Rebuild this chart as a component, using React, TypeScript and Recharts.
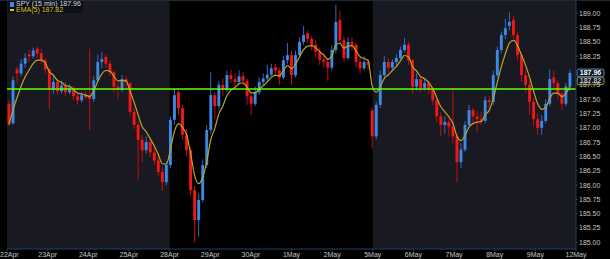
import { ComposedChart, Bar, Line, XAxis, YAxis, ReferenceLine, ReferenceArea } from 'recharts';

// [open, high, low, close] per half-hour-ish slot, one array per session
type Candle = [number, number, number, number];

const dates = ['22Apr', '23Apr', '24Apr', '25Apr', '28Apr', '29Apr', '30Apr', '1May', '2May', '5May', '6May', '7May', '8May', '9May', '12May'];

const apr22: Candle[] = [
    [187.42, 187.48, 187.03, 187.06], [187.08, 187.90, 187.05, 187.83], [188.02, 188.08, 187.78, 187.95], [187.95, 188.20, 187.90, 188.12], [188.12, 188.30, 188.05, 188.22],
    [188.28, 188.36, 188.15, 188.25], [188.25, 188.40, 188.20, 188.35], [188.38, 188.42, 188.22, 188.30], [188.30, 188.38, 188.12, 188.18], [188.18, 188.22, 187.95, 188.02],
];
const apr23: Candle[] = [
    [188.02, 188.05, 187.33, 187.68], [187.66, 187.90, 187.60, 187.80], [187.80, 187.85, 187.58, 187.64], [187.64, 187.82, 187.60, 187.74], [187.74, 187.80, 187.55, 187.62],
    [187.62, 187.76, 187.58, 187.70], [187.70, 187.73, 187.48, 187.55], [187.55, 187.60, 187.40, 187.48], [187.48, 187.62, 187.44, 187.57], [187.57, 187.65, 187.50, 187.53],
];
const apr24: Candle[] = [
    [187.55, 188.38, 186.95, 187.50], [187.50, 187.90, 187.45, 187.83], [187.83, 188.28, 187.80, 188.15], [188.15, 188.32, 188.05, 188.20], [188.24, 188.28, 188.05, 188.12],
    [188.12, 188.18, 187.90, 187.97], [187.97, 188.00, 187.62, 187.72], [187.72, 187.78, 187.50, 187.66], [187.66, 187.92, 187.62, 187.85], [187.85, 187.90, 187.70, 187.80],
];
const apr25: Candle[] = [
    [187.78, 187.80, 187.20, 187.28], [187.28, 187.35, 186.98, 187.05], [187.05, 187.12, 186.08, 186.79], [186.79, 186.88, 186.40, 186.61], [186.61, 186.85, 186.55, 186.75],
    [186.75, 186.80, 186.50, 186.57], [186.57, 186.65, 186.35, 186.43], [186.43, 186.50, 186.15, 186.23], [186.23, 186.32, 185.90, 186.05], [186.05, 186.42, 186.00, 186.35],
];
const apr28: Candle[] = [
    [186.35, 187.20, 186.30, 187.14], [187.14, 187.68, 187.05, 187.57], [187.62, 187.66, 187.22, 187.34], [187.34, 187.40, 186.78, 186.88], [186.88, 186.98, 186.50, 186.61],
    [186.61, 186.66, 185.82, 185.91], [185.91, 185.98, 185.00, 185.39], [185.39, 185.85, 185.10, 185.74], [185.74, 186.45, 185.70, 186.35], [186.35, 187.05, 186.30, 186.96],
];
const apr29: Candle[] = [
    [186.96, 187.97, 186.90, 187.57], [187.57, 187.62, 187.15, 187.38], [187.38, 187.82, 187.32, 187.75], [187.75, 187.86, 187.55, 187.66], [187.66, 188.00, 187.62, 187.92],
    [187.92, 188.02, 187.78, 187.85], [187.85, 187.95, 187.72, 187.80], [187.80, 188.00, 187.76, 187.90], [187.90, 187.97, 187.74, 187.82], [187.82, 187.86, 187.40, 187.55],
];
const apr30: Candle[] = [
    [187.55, 187.60, 187.22, 187.42], [187.42, 187.72, 187.38, 187.62], [187.62, 187.88, 187.58, 187.80], [187.80, 187.95, 187.74, 187.86], [187.86, 188.10, 187.80, 187.93],
    [187.93, 188.12, 187.88, 188.04], [188.06, 188.12, 187.92, 188.00], [188.00, 188.05, 187.75, 187.88], [187.88, 188.25, 187.85, 188.18], [188.18, 188.48, 188.12, 188.27],
];
const may01: Candle[] = [
    [188.27, 188.35, 187.75, 187.92], [187.92, 188.35, 187.88, 188.27], [188.27, 188.58, 188.22, 188.50], [188.50, 188.78, 188.45, 188.62], [188.65, 188.70, 188.48, 188.55],
    [188.55, 188.60, 188.35, 188.45], [188.45, 188.52, 188.22, 188.33], [188.33, 188.40, 188.10, 188.19], [188.19, 188.30, 188.05, 188.15], [188.15, 188.22, 187.82, 188.05],
];
const may02: Candle[] = [
    [188.05, 188.45, 188.00, 188.36], [188.36, 189.15, 188.30, 188.85], [188.88, 189.05, 188.45, 188.53], [188.53, 188.60, 188.15, 188.22], [188.22, 188.58, 188.18, 188.50],
    [188.50, 188.58, 188.35, 188.45], [188.45, 188.48, 188.05, 188.15], [188.15, 188.22, 187.95, 188.04], [188.04, 188.25, 188.00, 188.15], [188.15, 188.20, 188.02, 188.10],
];
const may05: Candle[] = [
    [187.30, 187.35, 186.64, 186.85], [186.85, 187.45, 186.80, 187.40], [187.40, 188.00, 187.35, 187.92], [187.92, 188.25, 187.88, 188.15], [188.15, 188.22, 187.98, 188.05],
    [188.05, 188.20, 188.00, 188.15], [188.15, 188.28, 188.08, 188.22], [188.22, 188.42, 188.18, 188.36], [188.36, 188.57, 188.32, 188.45], [188.45, 188.50, 188.10, 188.18],
];
const may06: Candle[] = [
    [188.18, 188.20, 187.60, 187.72], [187.72, 187.95, 187.65, 187.85], [187.85, 187.90, 187.62, 187.70], [187.70, 187.85, 187.65, 187.78], [187.78, 187.82, 187.58, 187.66],
    [187.66, 187.70, 187.40, 187.48], [187.48, 187.52, 187.10, 187.20], [187.20, 187.28, 186.85, 187.05], [187.05, 187.20, 186.90, 187.10], [187.10, 187.15, 186.85, 187.02],
];
const may07: Candle[] = [
    [187.02, 187.70, 186.72, 186.85], [186.85, 186.92, 186.05, 186.40], [186.40, 186.72, 186.30, 186.62], [186.62, 187.12, 186.58, 187.05], [187.05, 187.40, 187.00, 187.31],
    [187.31, 187.35, 187.05, 187.20], [187.20, 187.30, 186.92, 187.15], [187.15, 187.28, 187.05, 187.12], [187.12, 187.55, 187.08, 187.48], [187.48, 187.55, 187.32, 187.45],
];
const may08: Candle[] = [
    [187.45, 188.00, 187.40, 187.92], [187.92, 188.42, 187.88, 188.36], [188.36, 188.68, 188.30, 188.62], [188.62, 188.90, 188.55, 188.74], [188.78, 189.02, 188.70, 188.85],
    [188.88, 188.95, 188.55, 188.62], [188.62, 188.68, 188.18, 188.27], [188.27, 188.32, 187.80, 187.92], [187.92, 188.00, 187.62, 187.75], [187.75, 187.82, 187.22, 187.45],
];
const may09: Candle[] = [
    [187.45, 187.52, 187.02, 187.15], [187.15, 187.25, 186.88, 187.00], [187.00, 187.22, 186.88, 187.12], [187.12, 187.50, 187.08, 187.42], [187.42, 188.02, 187.38, 187.85],
    [187.88, 188.00, 187.68, 187.78], [187.78, 187.82, 187.50, 187.60], [187.60, 187.65, 187.32, 187.42], [187.42, 187.78, 187.38, 187.72], [187.72, 188.02, 187.65, 187.96],
];

const sessions = [apr22, apr23, apr24, apr25, apr28, apr29, apr30, may01, may02, may05, may06, may07, may08, may09];

const lastPrice = 187.96;
const lastEma = 187.82;
const prevClose = 187.68;
const priceTicks = [185, 185.25, 185.5, 185.75, 186, 186.25, 186.5, 186.75, 187, 187.25, 187.5, 187.75, 188, 188.25, 188.5, 188.75, 189];

const perDay = apr22.length;
const candles = sessions.flat();
const ema: number[] = [];
candles.forEach((c, i) => ema.push(i === 0 ? c[3] : ema[i - 1] + (c[3] - ema[i - 1]) / 3));

const data: any[] = candles.map((c, i) => ({
    i, open: c[0], high: c[1], low: c[2], close: c[3], range: [c[2], c[1]], ema: ema[i],
}));
// 12May slot, nothing traded yet on the visible part
data.push({ i: candles.length, range: null, ema: null });

const dayTicks = dates.map((_, d) => d * perDay);

const Candlestick = (props: any) => {
    const { x, y, width, height, payload } = props;
    if (!payload || payload.high == null) return null;
    const { open, close, high, low } = payload;
    const top = Math.min(y, y + height);
    const h = Math.abs(height);
    const toY = (v: number) => top + ((high - v) / (high - low || 1)) * h;
    const up = close >= open;
    const cx = x + width / 2;
    const bw = Math.max(1.5, width * 0.72);
    const b1 = toY(Math.max(open, close));
    const b2 = toY(Math.min(open, close));
    return (
        <g>
            <line x1={cx} x2={cx} y1={top} y2={top + h} stroke={up ? '#2f6cc0' : '#c80c0c'} strokeWidth={1} />
            <rect x={cx - bw / 2} y={b1} width={bw} height={Math.max(1, b2 - b1)} fill={up ? '#3c8ae8' : '#f21616'} />
        </g>
    );
};

// date ticks; the first one is pushed right so it is not cut at the edge
const DateTick = (props: any) => {
    const { x, y, payload, index } = props;
    const first = index === 0;
    return (
        <text x={first ? 0 : x} y={y + 6} textAnchor={first ? 'start' : 'middle'} fontSize={7} fill="#c4c4c4">
            {dates[Math.round(payload.value / perDay)]}
        </text>
    );
};

// price labels that sit right under the last-price tag are hidden by it
const priceLabel = (v: number) => (Math.abs(v - lastPrice) < 0.05 ? '' : v.toFixed(2));

const priceTag = (value: number, border: string, color: string) => (props: any) => {
    const vb = props.viewBox;
    if (!vb) return null;
    const x = vb.x + vb.width + 1;
    return (
        <g>
            <rect x={x} y={vb.y - 3.8} width={27} height={7.6} rx={2} fill="#0c1420" stroke={border} strokeWidth={1} />
            <text x={x + 13.5} y={vb.y + 2.4} textAnchor="middle" fontSize={7} fontWeight="bold" fill={color}>{value.toFixed(2)}</text>
        </g>
    );
};

const App = () => {
    return (
        <div style={{ position: 'absolute', left: 0, top: 0, width: 610, height: 259, background: '#000', fontFamily: '"Liberation Sans", Arial, sans-serif', boxShadow: 'inset 0 1px 0 #1c2a3c' }}>
            <ComposedChart width={610} height={259} data={data} margin={{ top: 1, right: 0, bottom: 0, left: 7 }} barCategoryGap={0}>
                {/*WEEK SHADING*/}
                <ReferenceArea x1={dayTicks[0]} x2={dayTicks[4]} fill="#191922" fillOpacity={1} stroke="none" ifOverflow="hidden" />
                <ReferenceArea x1={dayTicks[9]} x2={dayTicks[14]} fill="#191922" fillOpacity={1} stroke="none" ifOverflow="hidden" />

                <XAxis xAxisId="cat" dataKey="i" type="category" hide />
                <XAxis type="number" domain={[0, candles.length + 1]} ticks={dayTicks} interval={0} allowDataOverflow height={10}
                       axisLine={{ stroke: '#22405f' }} tickLine={{ stroke: '#22405f' }} tickSize={2} tickMargin={0}
                       tick={<DateTick />} />
                <YAxis orientation="right" domain={[184.883, 189.215]} ticks={priceTicks} interval={0} allowDataOverflow width={34}
                       tickFormatter={priceLabel} axisLine={{ stroke: '#22405f' }} tickLine={{ stroke: '#22405f' }}
                       tickSize={2} tickMargin={1} tick={{ fill: '#c4c4c4', fontSize: 7 }} />

                <Bar xAxisId="cat" dataKey="range" shape={Candlestick} isAnimationActive={false} />
                <Line xAxisId="cat" dataKey="ema" type="monotone" stroke="#bca42a" strokeWidth={1.2} dot={false} activeDot={false} isAnimationActive={false} />

                <ReferenceLine y={prevClose} stroke="#66ff00" strokeWidth={1.5} />
                <ReferenceLine y={lastEma} stroke="none" ifOverflow="visible" label={{ content: priceTag(lastEma, '#9c9420', '#b8b8b8') }} />
                <ReferenceLine y={lastPrice} stroke="none" ifOverflow="visible" label={{ content: priceTag(lastPrice, '#5a86b8', '#ffffff') }} />
            </ComposedChart>

            {/*LEGEND*/}
            <div style={{ position: 'absolute', left: 8, top: 1, padding: '0 2px', background: '#0e0e16', fontSize: 7, lineHeight: '6px' }}>
                <div style={{ color: '#d8d8d8', display: 'flex', alignItems: 'center', gap: 2 }}>
                    <span style={{ display: 'inline-block', width: 4, height: 5, background: '#3c8ae8' }} />SPY (15 min) 187.96
                </div>
                <div style={{ color: '#d6c41e', display: 'flex', alignItems: 'center', gap: 2 }}>
                    <span style={{ display: 'inline-block', width: 4, height: 1.5, background: '#d6c41e' }} />EMA(5) 187.82
                </div>
            </div>
        </div>
    );
};

export default App;
